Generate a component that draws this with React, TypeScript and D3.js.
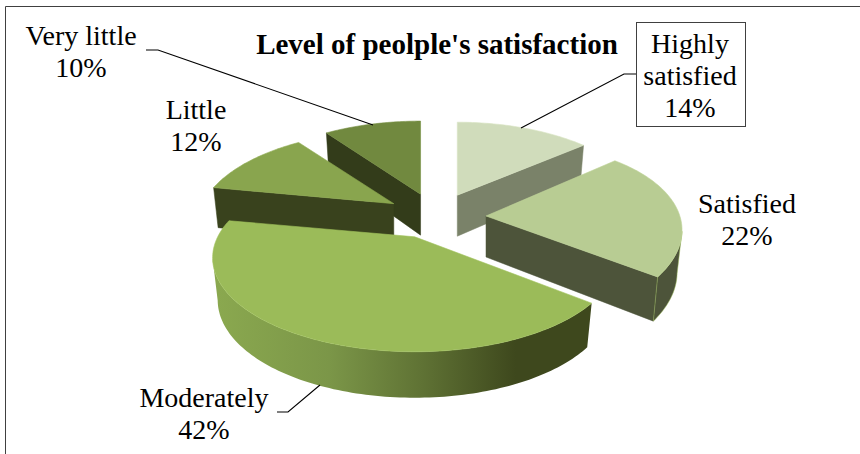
import React from "react";
import * as d3 from "d3";

// Survey shares, clockwise from twelve o'clock
const categories = ["Highly satisfied", "Satisfied", "Moderately", "Little", "Very little"];
const shares = [14, 22, 42, 12, 10];
const topColors = ["#d0dcbb", "#b8cc93", "#9bbb59", "#89a54e", "#71893f"];
const wallColors = ["#7a8269", "#4d543a", "#3e481d", "#39421d", "#333c1a"];
const paintOrder = [4, 3, 0, 1, 2];

// Label placement
const labelLines = [["Highly", "satisfied"], ["Satisfied"], ["Moderately"], ["Little"], ["Very little"]];
const labelCenters = [690, 747, 204, 196, 81];
const labelBaselines = [53, 213, 407, 119, 45];

// Pie geometry: tilted disc seen in perspective, with slices pulled away from the hub
const hub = { x: 436, y: 216 };
const explode = { x: 50, y: 23 };
const radiusX = 197;
const radiusY = 89.3;
const perspective = 0.223;
const depth = 41;
// Per-slice correction for the off-axis view of the pulled-out pieces
const sliceWidth = [0.95, 0.97, 1, 0.97, 0.96];
const sliceShear = [0, -7, 0, 0, 0];

type Pt = [number, number];

const radial = d3.scaleLinear().domain([0, 1]).range([0, radiusX]);

function apexOf(mid: number): Pt {
  return [hub.x + explode.x * Math.sin(mid), hub.y - explode.y * Math.cos(mid)];
}

// Point on the top face of a slice, at the given angle
function topPoint(i: number, apex: Pt, angle: number): Pt {
  const u = Math.sin(angle);
  const v = -Math.cos(angle);
  const w = 1 - perspective * v;
  return [apex[0] + (radial(sliceWidth[i]) * u) / w, apex[1] + (radiusY * v) / w + sliceShear[i] * u];
}

// Matching point on the underside: slightly smaller and further down when nearer the viewer
function bottomPoint(i: number, apex: Pt, angle: number): Pt {
  const p = topPoint(i, apex, angle);
  const v = -Math.cos(angle);
  return [apex[0] + (p[0] - apex[0]) * 0.975, p[1] + depth + 5 * v];
}

const line = d3.line<Pt>().curve(d3.curveLinearClosed);

function sweep(a0: number, a1: number): number[] {
  const n = Math.max(2, Math.ceil((a1 - a0) / 0.02));
  return d3.range(n + 1).map((i) => a0 + ((a1 - a0) * i) / n);
}

const arcs = d3.pie<number>().sort(null).value((d) => d)(shares);

function Slice({ index }: { index: number }) {
  const { startAngle: a0, endAngle: a1 } = arcs[index];
  const mid = (a0 + a1) / 2;
  const apex = apexOf(mid);
  const angles = sweep(a0, a1);
  const topFace: Pt[] = [apex, ...angles.map((a) => topPoint(index, apex, a))];
  const midPt = topPoint(index, apex, mid);

  // A cut face hangs below its edge only when the top face lies above that edge
  const cutVisible = (a: number) => {
    const e = topPoint(index, apex, a);
    if (Math.abs(e[0] - apex[0]) < 2) return false;
    const atMid = apex[1] + ((e[1] - apex[1]) * (midPt[0] - apex[0])) / (e[0] - apex[0]);
    return midPt[1] < atMid;
  };
  const cut = (a: number): Pt[] => [
    apex,
    topPoint(index, apex, a),
    bottomPoint(index, apex, a),
    [apex[0], apex[1] + depth],
  ];

  // The outer rim faces the viewer where the arc runs right to left
  const rimAngles = angles.filter((a) => topPoint(index, apex, a + 0.01)[0] < topPoint(index, apex, a)[0]);
  const rim: Pt[] = rimAngles.length > 1
    ? [
        ...rimAngles.map((a) => topPoint(index, apex, a)),
        ...rimAngles.slice().reverse().map((a) => bottomPoint(index, apex, a)),
      ]
    : [];

  const wall = wallColors[index];
  const edge = d3.color(topColors[index])!.brighter(0.1).formatHex();
  return (
    <g>
      {[a0, a1].filter(cutVisible).map((a, i) => (
        <path key={i} d={line(cut(a))!} fill={wall} stroke={wall} strokeWidth={0.5} />
      ))}
      {rim.length > 0 && (
        <path
          d={line(rim)!}
          fill={categories[index] === "Moderately" ? "url(#rimShade)" : wall}
          stroke={categories[index] === "Moderately" ? "none" : topColors[2]}
          strokeWidth={0.5}
        />
      )}
      <path d={line(topFace)!} fill={topColors[index]} stroke={edge} strokeWidth={0.6} />
    </g>
  );
}

export default function App() {
  return (
    <svg
      width={860}
      height={454}
      style={{ position: "absolute", left: 0, top: 0, display: "block", background: "#fff" }}
      fontFamily="'Liberation Serif', serif"
      fill="#000"
    >
      <defs>
        <linearGradient id="rimShade" gradientUnits="userSpaceOnUse" x1={218} x2={590} y1={0} y2={0}>
          <stop offset="0" stopColor="#8aa84f" />
          <stop offset="0.3" stopColor="#7b9648" />
          <stop offset="0.55" stopColor="#5f7234" />
          <stop offset="0.8" stopColor="#3e481d" />
          <stop offset="1" stopColor="#3e481d" />
        </linearGradient>
      </defs>

      <path d="M5.5,454V6.5H860" fill="none" stroke="#404040" strokeWidth={1} />

      {paintOrder.map((i) => (
        <Slice key={i} index={i} />
      ))}

      <g fill="none" stroke="#000" strokeWidth={1.1}>
        <polyline points="146,50 158,50 373,125" />
        <polyline points="636,74 624,74 521,128" />
        <polyline points="277,412 288,412 320,385" />
      </g>

      <text x={437} y={54} textAnchor="middle" fontWeight="bold" fontSize={29}>
        Level of peolple's satisfaction
      </text>

      <rect x={636.5} y={22.5} width={109} height={104} fill="#fff" stroke="#404040" strokeWidth={1} />

      {categories.map((c, i) => {
        const lines = [...labelLines[i], `${shares[i]}%`];
        return (
          <text key={c} textAnchor="middle" fontSize={28} fill="#000">
            {lines.map((t, j) => (
              <tspan key={j} x={labelCenters[i]} y={labelBaselines[i] + j * 32}>
                {t}
              </tspan>
            ))}
          </text>
        );
      })}
    </svg>
  );
}
